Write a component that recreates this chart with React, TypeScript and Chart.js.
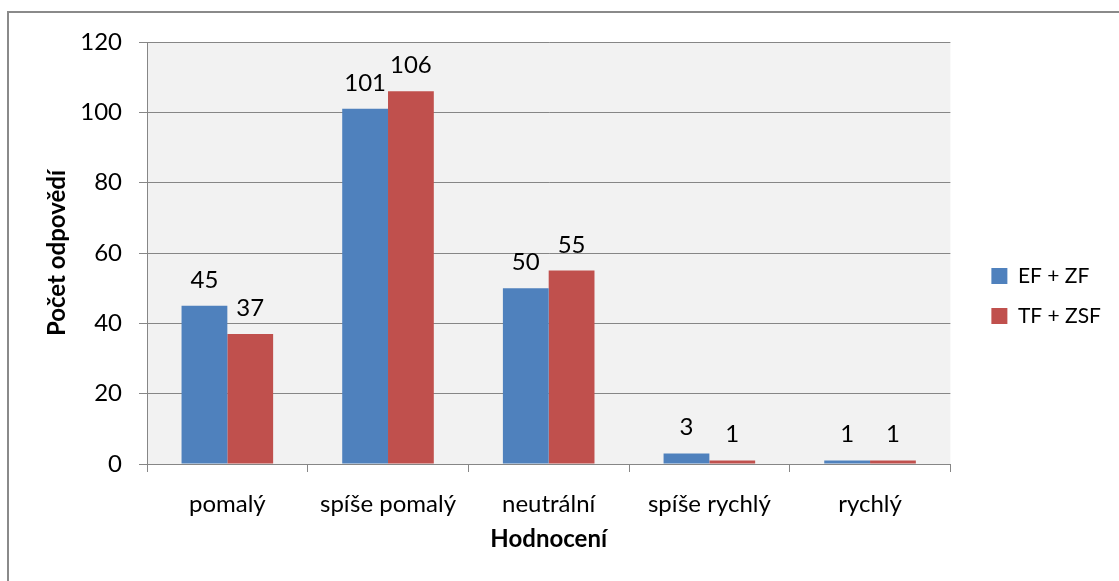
import React, { useEffect, useRef } from 'react';
import { Chart, registerables } from 'chart.js';

Chart.register(...registerables);

const categories = ['pomalý', 'spíše pomalý', 'neutrální', 'spíše rychlý', 'rychlý'];
const seriesNames = ['EF + ZF', 'TF + ZSF'];
const efZf = [45, 101, 50, 3, 1];
const tfZsf = [37, 106, 55, 1, 1];
const yTicks = [0, 20, 40, 60, 80, 100, 120];
const xTitle = 'Hodnocení';
const yTitle = 'Počet odpovědí';

const GRID = '#868686';
const FONT = 'Lato';
const FS = 24;

const bgPlugin = {
  id: 'bgPlugin',
  beforeDraw(chart: any) {
    const { ctx, chartArea, width, height } = chart;
    ctx.save();
    ctx.fillStyle = '#ffffff';
    ctx.fillRect(0, 0, width, height);
    ctx.fillStyle = '#F2F2F2';
    ctx.fillRect(chartArea.left, chartArea.top, chartArea.right - chartArea.left, chartArea.bottom - chartArea.top);
    ctx.strokeStyle = '#8a8a8a';
    ctx.lineWidth = 2;
    ctx.strokeRect(8, 12, width + 20, height + 20);
    ctx.restore();
  },
};

const valueLabels = {
  id: 'valueLabels',
  afterDatasetsDraw(chart: any) {
    const { ctx } = chart;
    ctx.save();
    ctx.fillStyle = '#000';
    ctx.font = `${FS}px ${FONT}`;
    ctx.textAlign = 'center';
    ctx.textBaseline = 'alphabetic';
    chart.data.datasets.forEach((ds: any, di: number) => {
      const meta = chart.getDatasetMeta(di);
      meta.data.forEach((bar: any, i: number) => {
        ctx.fillText(String(ds.data[i]), bar.x, bar.y - 18);
      });
    });
    ctx.restore();
  },
};

export default function App() {
  const ref = useRef<HTMLCanvasElement>(null);

  useEffect(() => {
    if (!ref.current) return;
    Chart.defaults.font.family = FONT;
    const chart = new Chart(ref.current, {
      type: 'bar',
      data: {
        labels: categories,
        datasets: [
          { label: seriesNames[0], data: efZf, backgroundColor: '#4F81BD', borderWidth: 0, categoryPercentage: 0.57, barPercentage: 1 },
          { label: seriesNames[1], data: tfZsf, backgroundColor: '#C0504D', borderWidth: 0, categoryPercentage: 0.57, barPercentage: 1 },
        ],
      },
      options: {
        responsive: false,
        animation: false,
        events: [],
        layout: { padding: { top: 11, bottom: 0, left: 20, right: 8 } },
        plugins: {
          title: { display: true, text: '', padding: { top: 21, bottom: 0 }, font: { size: 10, lineHeight: 1 } },
          tooltip: { enabled: false },
          legend: {
            display: true,
            position: 'right',
            labels: {
              boxWidth: 16,
              boxHeight: 16,
              padding: 19,
              color: '#000',
              font: { size: 21, family: FONT },
            },
          },
        },
        scales: {
          x: {
            offset: true,
            grid: { display: true, drawOnChartArea: false, drawTicks: true, tickLength: 8, color: GRID, tickColor: GRID, offset: true },
            border: { display: true, color: GRID, width: 1 },
            ticks: { color: '#000', font: { size: FS, family: FONT }, padding: 18, maxRotation: 0, autoSkip: false },
            title: { display: true, text: xTitle, color: '#000', font: { size: FS, weight: 'bold', family: FONT }, padding: { top: 10, bottom: 27 } },
            afterFit: (scale: any) => { scale.height = 117; },
          },
          y: {
            min: yTicks[0],
            max: yTicks[yTicks.length - 1],
            grid: { color: GRID, tickColor: GRID, tickLength: 8, drawTicks: true },
            border: { display: true, color: GRID, width: 1 },
            ticks: { stepSize: yTicks[1] - yTicks[0], color: '#000', font: { size: FS, family: FONT }, padding: 17 },
            title: { display: true, text: yTitle, color: '#000', font: { size: FS, weight: 'bold', family: FONT }, padding: { top: 23, bottom: 10 } },
            afterFit: (scale: any) => { scale.width = 127; },
          },
          gap: {
            type: 'linear',
            position: 'right',
            display: true,
            grid: { display: false },
            border: { display: false },
            ticks: { display: false },
            afterFit: (scale: any) => { scale.width = 22; },
          },
        },
      },
      plugins: [bgPlugin, valueLabels],
    } as any);
    return () => chart.destroy();
  }, []);

  return (
    <div style={{ position: 'absolute', left: 0, top: 0, width: 1119, height: 581 }}>
      <canvas ref={ref} width={1119} height={581} />
    </div>
  );
}
